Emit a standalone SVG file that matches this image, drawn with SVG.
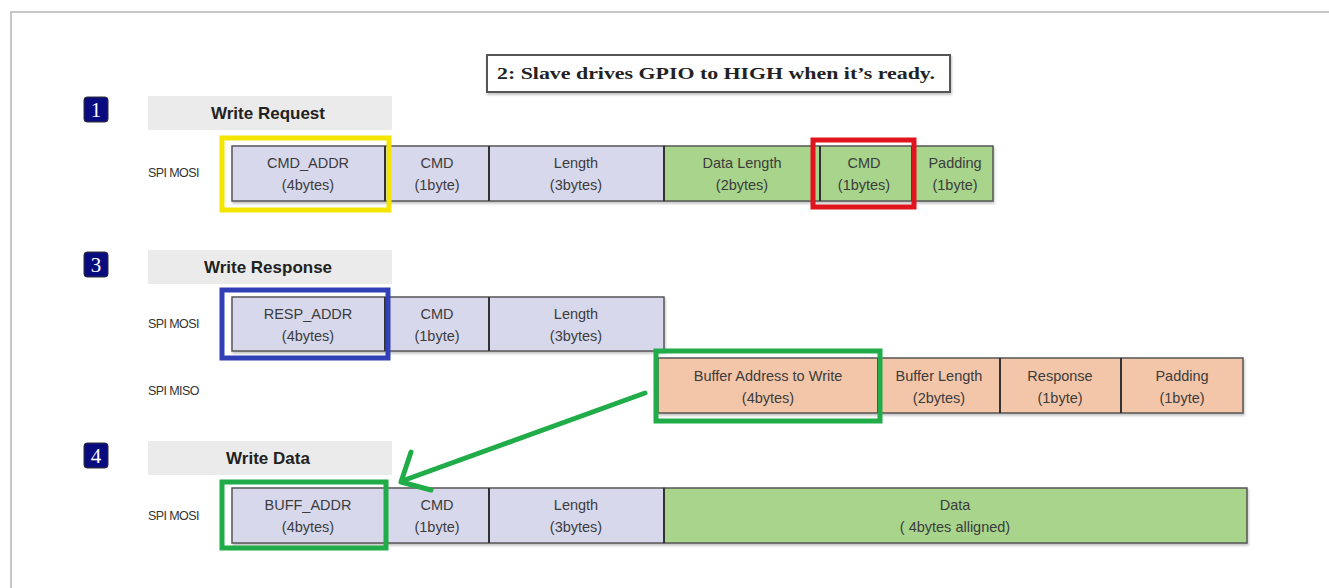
<svg xmlns="http://www.w3.org/2000/svg" width="1329" height="588" viewBox="0 0 1329 588">
<style>
.lbl{font-family:"Liberation Sans",Arial,sans-serif;font-size:14.5px;fill:#3c3c3c;text-anchor:middle}
.sig{font-family:"Liberation Sans",Arial,sans-serif;font-size:12.5px;fill:#333;letter-spacing:-0.6px}
.ttl{font-family:"Liberation Sans",Arial,sans-serif;font-size:17px;font-weight:bold;fill:#222;text-anchor:middle}
.num{font-family:"Liberation Serif",serif;font-size:21px;fill:#fff;text-anchor:middle}
.badge{fill:#0b0b80;stroke:#333;stroke-width:1}
.bar{fill:#ebebeb}
.lav{fill:#d8d8ec;stroke:#555;stroke-width:1.5}
.grn{fill:#a8d48c;stroke:#555;stroke-width:1.5}
.pch{fill:#f3c6a9;stroke:#555;stroke-width:1.5}
.sep{stroke:#333;stroke-width:2}
.hl{fill:none;stroke-width:5}
</style>
<defs>
<filter id="sh" x="-5%" y="-5%" width="110%" height="120%"><feDropShadow dx="1" dy="2" stdDeviation="1" flood-color="#888" flood-opacity="0.5"/></filter>
</defs>
<rect width="1329" height="588" fill="#fff"/>
<path d="M11 588 V12 H1329" fill="none" stroke="#c8c8c8" stroke-width="2"/>

<g id="callout">
<rect x="487" y="55" width="463" height="37" fill="#fff" stroke="#555" stroke-width="2" filter="url(#sh)"/>
<text x="497" y="79" font-family="'Liberation Serif',serif" font-weight="bold" font-size="16" fill="#222" textLength="438" lengthAdjust="spacingAndGlyphs">2: Slave drives GPIO to HIGH when it’s ready.</text>
</g>

<g id="sec1">
<rect class="badge" x="84" y="97" width="24" height="25" rx="3"/>
<text class="num" x="96" y="117">1</text>
<rect class="bar" x="148" y="96" width="244" height="34"/>
<text class="ttl" x="268" y="119">Write Request</text>
<text class="sig" x="148" y="177">SPI MOSI</text>
</g>
<g id="row1" filter="url(#sh)">
<rect class="lav" x="232" y="146" width="432" height="55"/>
<rect class="grn" x="664" y="146" width="329" height="55"/>
<line class="sep" x1="385" y1="146" x2="385" y2="201"/>
<line class="sep" x1="489" y1="146" x2="489" y2="201"/>
<line class="sep" x1="664" y1="146" x2="664" y2="201"/>
<line class="sep" x1="820" y1="146" x2="820" y2="201"/>
<line class="sep" x1="912" y1="146" x2="912" y2="201"/>
</g>
<g id="row1-text">
<text class="lbl" x="308" y="168">CMD_ADDR</text><text class="lbl" x="308" y="190">(4bytes)</text>
<text class="lbl" x="437" y="168">CMD</text><text class="lbl" x="437" y="190">(1byte)</text>
<text class="lbl" x="576" y="168">Length</text><text class="lbl" x="576" y="190">(3bytes)</text>
<text class="lbl" x="742" y="168">Data Length</text><text class="lbl" x="742" y="190">(2bytes)</text>
<text class="lbl" x="864" y="168">CMD</text><text class="lbl" x="864" y="190">(1bytes)</text>
<text class="lbl" x="955" y="168">Padding</text><text class="lbl" x="955" y="190">(1byte)</text>
</g>
<rect id="hl-yellow" class="hl" x="222" y="138" width="167" height="72" stroke="#f4e500"/>
<rect id="hl-red" class="hl" x="813" y="140" width="101" height="67" stroke="#e0141c"/>

<g id="sec3">
<rect class="badge" x="84" y="252" width="24" height="25" rx="3"/>
<text class="num" x="96" y="272" font-family="'Liberation Sans',sans-serif">3</text>
<rect class="bar" x="148" y="250" width="244" height="34"/>
<text class="ttl" x="268" y="273">Write Response</text>
<text class="sig" x="148" y="328">SPI MOSI</text>
<text class="sig" x="148" y="395">SPI MISO</text>
</g>
<g id="row3" filter="url(#sh)">
<rect class="lav" x="232" y="297" width="432" height="54"/>
<line class="sep" x1="385" y1="297" x2="385" y2="351"/>
<line class="sep" x1="489" y1="297" x2="489" y2="351"/>
</g>
<g id="row3-text">
<text class="lbl" x="308" y="319">RESP_ADDR</text><text class="lbl" x="308" y="341">(4bytes)</text>
<text class="lbl" x="437" y="319">CMD</text><text class="lbl" x="437" y="341">(1byte)</text>
<text class="lbl" x="576" y="319">Length</text><text class="lbl" x="576" y="341">(3bytes)</text>
</g>
<g id="row3miso" filter="url(#sh)">
<rect class="pch" x="658" y="358" width="585" height="55"/>
<line class="sep" x1="878" y1="358" x2="878" y2="413"/>
<line class="sep" x1="1000" y1="358" x2="1000" y2="413"/>
<line class="sep" x1="1121" y1="358" x2="1121" y2="413"/>
</g>
<g id="row3miso-text">
<text class="lbl" x="768" y="381" font-size="13.5">Buffer Address to Write</text><text class="lbl" x="768" y="403">(4bytes)</text>
<text class="lbl" x="939" y="381" font-size="13.5">Buffer Length</text><text class="lbl" x="939" y="403">(2bytes)</text>
<text class="lbl" x="1060" y="381">Response</text><text class="lbl" x="1060" y="403">(1byte)</text>
<text class="lbl" x="1182" y="381">Padding</text><text class="lbl" x="1182" y="403">(1byte)</text>
</g>
<rect id="hl-blue" class="hl" x="222" y="290" width="166" height="68" stroke="#3240b8"/>
<rect id="hl-green1" class="hl" x="656" y="351" width="224" height="70" stroke="#20ac48"/>

<g id="sec4">
<rect class="badge" x="84" y="443" width="24" height="25" rx="3"/>
<text class="num" x="96" y="463">4</text>
<rect class="bar" x="148" y="441" width="244" height="34"/>
<text class="ttl" x="268" y="464">Write Data</text>
<text class="sig" x="148" y="520">SPI MOSI</text>
</g>
<g id="row4" filter="url(#sh)">
<rect class="lav" x="232" y="488" width="432" height="55"/>
<rect class="grn" x="664" y="488" width="583" height="55"/>
<line class="sep" x1="385" y1="488" x2="385" y2="543"/>
<line class="sep" x1="489" y1="488" x2="489" y2="543"/>
<line class="sep" x1="664" y1="488" x2="664" y2="543"/>
</g>
<g id="row4-text">
<text class="lbl" x="308" y="510">BUFF_ADDR</text><text class="lbl" x="308" y="532">(4bytes)</text>
<text class="lbl" x="437" y="510">CMD</text><text class="lbl" x="437" y="532">(1byte)</text>
<text class="lbl" x="576" y="510">Length</text><text class="lbl" x="576" y="532">(3bytes)</text>
<text class="lbl" x="955" y="510">Data</text><text class="lbl" x="955" y="532">( 4bytes alligned)</text>
</g>
<rect id="hl-green2" class="hl" x="222" y="482" width="164" height="66" stroke="#20ac48"/>

<g id="connectors" fill="none" stroke="#20ac48" stroke-width="5" stroke-linecap="round" stroke-linejoin="round">
<path d="M645 393 L402 481"/>
<path d="M411 452 L401 482 L431 490"/>
</g>
</svg>
